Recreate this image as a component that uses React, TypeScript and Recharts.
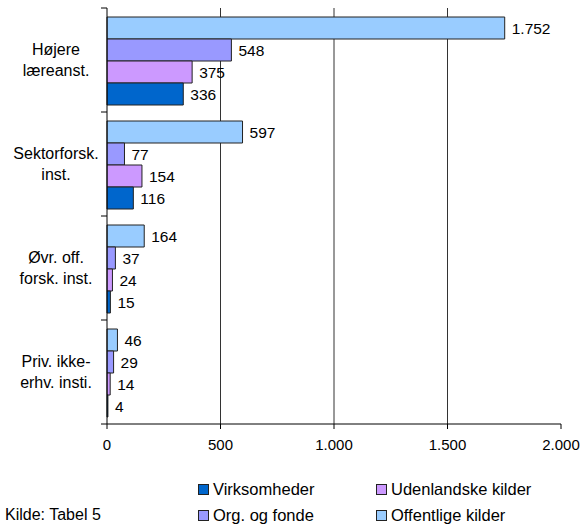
import { BarChart, Bar, XAxis, YAxis, CartesianGrid, LabelList } from 'recharts';

const categories = ['Højere\nlæreanst.', 'Sektorforsk.\ninst.', 'Øvr. off.\nforsk. inst.', 'Priv. ikke-\nerhv. insti.'];
const offentlige = [1752, 597, 164, 46];
const orgFonde = [548, 77, 37, 29];
const udenlandske = [375, 154, 24, 14];
const virksomheder = [336, 116, 15, 4];
const xTicks = [0, 500, 1000, 1500, 2000];
const gridValues = [500, 1000, 1500];

const FONT = '"Liberation Sans", Arial, sans-serif';
const BAND = 104;

const series = [
  { key: 'offentlige', name: 'Offentlige kilder', color: '#99CCFF' },
  { key: 'orgFonde', name: 'Org. og fonde', color: '#9999FF' },
  { key: 'udenlandske', name: 'Udenlandske kilder', color: '#CC99FF' },
  { key: 'virksomheder', name: 'Virksomheder', color: '#0066CC' },
];

// legend reads row by row: Virksomheder, Udenlandske / Org., Offentlige
const legendOrder = ['virksomheder', 'udenlandske', 'orgFonde', 'offentlige'];

const data = categories.map((name, i) => ({
  name,
  offentlige: offentlige[i],
  orgFonde: orgFonde[i],
  udenlandske: udenlandske[i],
  virksomheder: virksomheder[i],
}));

const fmt = (v: number) => String(v).replace(/\B(?=(\d{3})+(?!\d))/g, '.');

function CategoryTick(props: any) {
  const { y, payload, index } = props;
  const lines = String(payload.value).split('\n');
  const axisX = 107;
  return (
    <g>
      <line x1={axisX - 6} x2={axisX} y1={y - BAND / 2} y2={y - BAND / 2} stroke="#000" />
      {index === categories.length - 1 && (
        <line x1={axisX - 6} x2={axisX} y1={y + BAND / 2} y2={y + BAND / 2} stroke="#000" />
      )}
      {lines.map((l, i) => (
        <text
          key={i}
          x={56}
          y={y + (i - (lines.length - 1) / 2) * 21}
          textAnchor="middle"
          dominantBaseline="central"
          fontSize={16}
          fontFamily={FONT}
          fill="#000"
        >
          {l}
        </text>
      ))}
    </g>
  );
}

export default function App() {
  return (
    <div style={{ position: 'absolute', left: 0, top: 0, width: 582, height: 525, background: '#fff', fontFamily: FONT }}>
      <BarChart
        width={582}
        height={460}
        data={data}
        layout="vertical"
        margin={{ top: 8, right: 21, left: 0, bottom: 0 }}
        barCategoryGap={9}
        barGap={0}
      >
        <CartesianGrid horizontal={false} vertical verticalValues={gridValues} stroke="#333" />
        <XAxis
          type="number"
          domain={[0, 2000]}
          ticks={xTicks}
          tickFormatter={fmt}
          interval={0}
          height={36}
          axisLine={{ stroke: '#000' }}
          tickLine={{ stroke: '#000' }}
          tickSize={5}
          tickMargin={10}
          tick={{ fontSize: 15, fontFamily: FONT, fill: '#000' }}
        />
        <YAxis
          type="category"
          dataKey="name"
          width={107}
          axisLine={{ stroke: '#000' }}
          tickLine={false}
          tick={<CategoryTick />}
          interval={0}
        />
        {series.map((s) => (
          <Bar key={s.key} dataKey={s.key} name={s.name} fill={s.color} stroke="#222" strokeWidth={1} isAnimationActive={false}>
            <LabelList
              dataKey={s.key}
              position="right"
              offset={7}
              formatter={(v: any) => fmt(Number(v))}
              style={{ fontSize: 15.5, fontFamily: FONT, fill: '#000' }}
            />
          </Bar>
        ))}
      </BarChart>
      <div style={{ position: 'absolute', left: 5, top: 505, fontSize: 16, lineHeight: '20px', color: '#000' }}>Kilde: Tabel 5</div>
      {legendOrder.map((k, i) => {
        const s = series.find((x) => x.key === k)!;
        const col = i % 2;
        const row = Math.floor(i / 2);
        return (
          <div
            key={k}
            style={{
              position: 'absolute',
              left: col === 0 ? 198 : 376,
              top: row === 0 ? 479 : 505,
              height: 20,
              display: 'flex',
              alignItems: 'center',
              fontSize: 16.5,
              color: '#000',
              whiteSpace: 'nowrap',
            }}
          >
            <span style={{ display: 'inline-block', width: 9, height: 9, background: s.color, border: '1px solid #222', marginRight: 4 }} />
            {s.name}
          </div>
        );
      })}
    </div>
  );
}
